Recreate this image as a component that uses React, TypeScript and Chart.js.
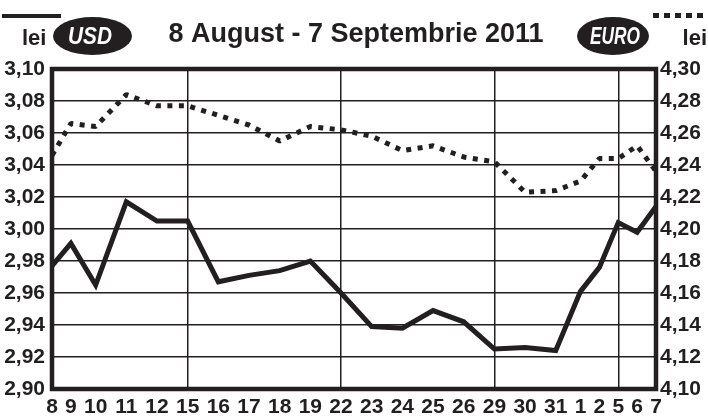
import React, { useEffect, useRef } from 'react';
import { Chart, registerables } from 'chart.js';

Chart.register(...registerables);

const TITLE = '8 August - 7 Septembrie 2011';
const UNIT = 'lei';
const SERIES_NAMES = ['USD', 'EURO'];

const CATEGORIES = ['8', '9', '10', '11', '12', '15', '16', '17', '18', '19', '22', '23', '24', '25', '26', '29', '30', '31', '1', '2', '5', '6', '7'];

const USD = [2.977, 2.991, 2.965, 3.017, 3.005, 3.005, 2.967, 2.971, 2.974, 2.980, 2.960, 2.939, 2.938, 2.949, 2.942, 2.925, 2.926, 2.924, 2.961, 2.976, 3.004, 2.998, 3.014];

const EURO = [4.246, 4.266, 4.264, 4.284, 4.277, 4.277, 4.271, 4.265, 4.255, 4.264, 4.262, 4.258, 4.249, 4.252, 4.245, 4.242, 4.223, 4.224, 4.230, 4.244, 4.244, 4.252, 4.236];

const LEFT_TICKS = [2.90, 2.92, 2.94, 2.96, 2.98, 3.00, 3.02, 3.04, 3.06, 3.08, 3.10];
const RIGHT_TICKS = [4.10, 4.12, 4.14, 4.16, 4.18, 4.20, 4.22, 4.24, 4.26, 4.28, 4.30];

const INK = '#231f20';
const FONT = "'Liberation Sans', Arial, Helvetica, sans-serif";

// x positions follow the width of the day labels (labels laid out like a text row)
const LABEL_GAP = 0.6;
const X_POS: number[] = [];
CATEGORIES.forEach((lab, i) => {
  X_POS.push(i === 0 ? 0 : X_POS[i - 1] + (CATEGORIES[i - 1].length + lab.length) / 2 + LABEL_GAP);
});

const SEPT_START = CATEGORIES.indexOf('1');
const isMonday = (i: number) =>
  new Date(2011, i >= SEPT_START ? 8 : 7, Number(CATEGORIES[i])).getDay() === 1;

const fmt = (v: number) => Number(v).toFixed(2).replace('.', ',');

const headerPlugin = {
  id: 'headerFrame',
  afterDraw(chart: any) {
    const ctx = chart.ctx as CanvasRenderingContext2D;
    const { left, top, right, bottom } = chart.chartArea;
    ctx.save();
    // frame
    ctx.strokeStyle = INK;
    ctx.lineWidth = 4.5;
    ctx.setLineDash([]);
    ctx.strokeRect(left, top, right - left, bottom - top);

    ctx.fillStyle = INK;
    // solid legend line (USD)
    ctx.fillRect(2, 14, 59, 4);
    // dotted legend line (EURO)
    ctx.beginPath();
    ctx.setLineDash([6, 5]);
    ctx.lineWidth = 5;
    ctx.moveTo(653, 15.5);
    ctx.lineTo(708, 15.5);
    ctx.stroke();
    ctx.setLineDash([]);

    // unit labels
    ctx.font = `bold 22px ${FONT}`;
    ctx.textBaseline = 'alphabetic';
    ctx.textAlign = 'left';
    ctx.fillText(UNIT, 22, 45);
    ctx.textAlign = 'right';
    ctx.fillText(UNIT, 707, 45);

    // ellipses with currency names
    ctx.beginPath();
    ctx.ellipse(92.5, 36, 39.5, 19, 0, 0, Math.PI * 2);
    ctx.fill();
    ctx.beginPath();
    ctx.ellipse(613, 36, 36, 19, 0, 0, Math.PI * 2);
    ctx.fill();
    ctx.fillStyle = '#ffffff';
    ctx.font = `italic bold 23px ${FONT}`;
    ctx.textAlign = 'center';
    ctx.fillText(SERIES_NAMES[0], 90, 44, 44);
    ctx.fillText(SERIES_NAMES[1], 615, 44, 50);

    // title
    ctx.fillStyle = INK;
    ctx.font = `bold 27px ${FONT}`;
    ctx.fillText(TITLE, 356, 42);
    ctx.restore();
  },
};

export default function App() {
  const ref = useRef<HTMLCanvasElement | null>(null);

  useEffect(() => {
    if (!ref.current) return;
    const tickFont = { family: FONT, size: 21, weight: 'bold' as const };
    const chart = new Chart(ref.current, {
      type: 'line',
      data: {
        datasets: [
          {
            label: SERIES_NAMES[1],
            data: EURO.map((v, i) => ({ x: X_POS[i], y: v })),
            yAxisID: 'yR',
            borderColor: INK,
            borderWidth: 5,
            borderDash: [5, 6.5],
            borderCapStyle: 'butt',
            borderJoinStyle: 'bevel',
            pointRadius: 0,
            tension: 0,
            fill: false,
          },
          {
            label: SERIES_NAMES[0],
            data: USD.map((v, i) => ({ x: X_POS[i], y: v })),
            yAxisID: 'yL',
            borderColor: INK,
            borderWidth: 5,
            borderJoinStyle: 'miter',
            pointRadius: 0,
            tension: 0,
            fill: false,
          },
        ],
      },
      options: {
        responsive: false,
        maintainAspectRatio: false,
        animation: false,
        events: [],
        layout: { padding: { top: 69, left: 0, right: 0, bottom: 0 } },
        plugins: {
          legend: { display: false },
          tooltip: { enabled: false },
          title: { display: false },
        },
        scales: {
          x: {
            type: 'linear',
            min: X_POS[0],
            max: X_POS[X_POS.length - 1],
            afterBuildTicks: (s: any) => {
              s.ticks = X_POS.map((v) => ({ value: v }));
            },
            afterFit: (s: any) => {
              s.height = 28;
            },
            border: { display: false },
            grid: {
              drawTicks: false,
              color: INK,
              lineWidth: (c: any) =>
                c.index > 0 && c.index < X_POS.length - 1 && isMonday(c.index) ? 1.5 : 0,
            },
            ticks: {
              autoSkip: false,
              maxRotation: 0,
              minRotation: 0,
              padding: 6,
              color: INK,
              font: tickFont,
              callback: (_v: any, i: number) => CATEGORIES[i],
            },
          },
          yL: {
            type: 'linear',
            position: 'left',
            min: LEFT_TICKS[0],
            max: LEFT_TICKS[LEFT_TICKS.length - 1],
            afterBuildTicks: (s: any) => {
              s.ticks = LEFT_TICKS.map((v) => ({ value: v }));
            },
            afterFit: (s: any) => {
              s.width = 52;
            },
            border: { display: false },
            grid: {
              drawTicks: false,
              color: INK,
              lineWidth: (c: any) =>
                c.index === 0 || c.index === LEFT_TICKS.length - 1 ? 0 : 1.5,
            },
            ticks: {
              padding: 7,
              color: INK,
              font: tickFont,
              callback: (v: any) => fmt(v),
            },
          },
          yR: {
            type: 'linear',
            position: 'right',
            min: RIGHT_TICKS[0],
            max: RIGHT_TICKS[RIGHT_TICKS.length - 1],
            afterBuildTicks: (s: any) => {
              s.ticks = RIGHT_TICKS.map((v) => ({ value: v }));
            },
            afterFit: (s: any) => {
              s.width = 52;
            },
            border: { display: false },
            grid: { display: false, drawTicks: false },
            ticks: {
              padding: 4,
              color: INK,
              font: tickFont,
              callback: (v: any) => fmt(v),
            },
          },
        },
      },
      plugins: [headerPlugin],
    });
    return () => chart.destroy();
  }, []);

  return (
    <div style={{ position: 'fixed', left: 0, top: 0, width: 708, height: 417, background: '#ffffff' }}>
      <canvas ref={ref} width={708} height={417} style={{ display: 'block', width: 708, height: 417 }} />
    </div>
  );
}
